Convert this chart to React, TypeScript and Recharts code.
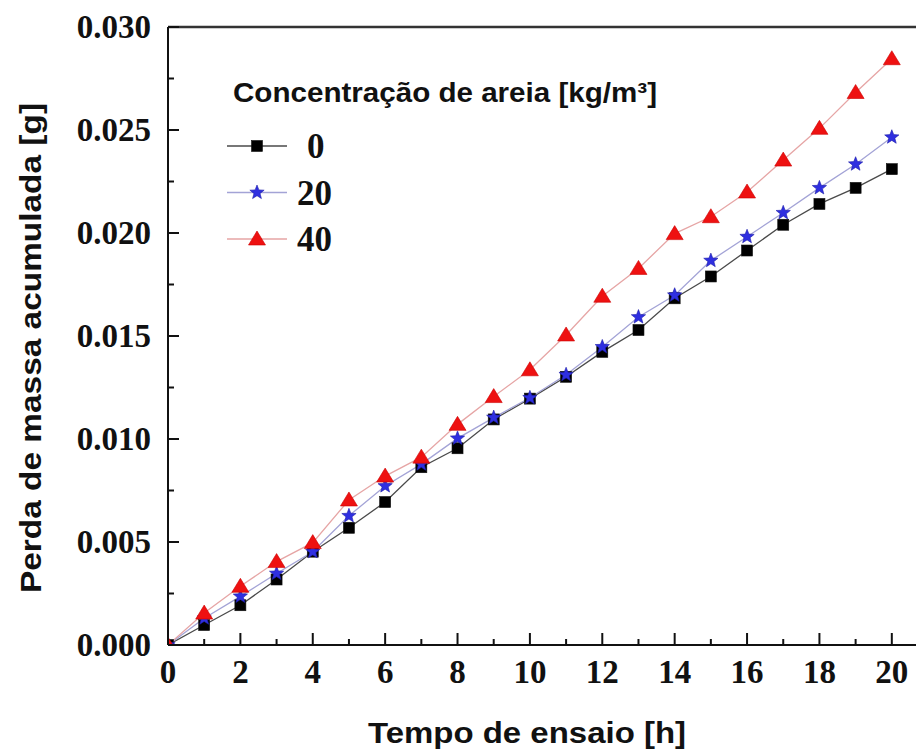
import React from 'react';
import { LineChart, Line, XAxis, YAxis, ReferenceLine, Customized } from 'recharts';

const hours = [0, 1, 2, 3, 4, 5, 6, 7, 8, 9, 10, 11, 12, 13, 14, 15, 16, 17, 18, 19, 20];
const conc0 = [0, 0.00097, 0.00193, 0.00318, 0.00453, 0.00569, 0.00694, 0.00863, 0.00955, 0.01095, 0.01196, 0.01302, 0.01423, 0.01529, 0.01683, 0.01789, 0.01915, 0.0204, 0.02141, 0.02219, 0.0231];
const conc20 = [0, 0.0013, 0.00236, 0.00347, 0.00453, 0.00627, 0.00772, 0.00878, 0.01003, 0.01104, 0.012, 0.01312, 0.01447, 0.01592, 0.01698, 0.01866, 0.01982, 0.02098, 0.02219, 0.02334, 0.02465];
const conc40 = [0, 0.00155, 0.00285, 0.00405, 0.00497, 0.00704, 0.0082, 0.00912, 0.01071, 0.01206, 0.01336, 0.01505, 0.01693, 0.01828, 0.01997, 0.02079, 0.02199, 0.02354, 0.02508, 0.02682, 0.02846];

const xTicks = [0, 1, 2, 3, 4, 5, 6, 7, 8, 9, 10, 11, 12, 13, 14, 15, 16, 17, 18, 19, 20];
const yTicks = [0, 0.0025, 0.005, 0.0075, 0.01, 0.0125, 0.015, 0.0175, 0.02, 0.0225, 0.025, 0.0275, 0.03];

const legendTitle = 'Concentração de areia [kg/m³]';
const xTitle = 'Tempo de ensaio [h]';
const yTitle = 'Perda de massa acumulada [g]';

const series = [
  { key: 'c0', name: '0', values: conc0, line: '#4a4a4a', marker: 'square', fill: '#000000' },
  { key: 'c20', name: '20', values: conc20, line: '#a3a3d6', marker: 'star', fill: '#2f2fe0' },
  { key: 'c40', name: '40', values: conc40, line: '#e6a5a5', marker: 'triangle', fill: '#ee1111' },
];

const data = hours.map((t, i) => ({ t, c0: conc0[i], c20: conc20[i], c40: conc40[i] }));

const SERIF = '"Liberation Serif", "Times New Roman", serif';
const SANS = '"Liberation Sans", Arial, sans-serif';

function Marker({ type, cx, cy, fill }: { type: string; cx: number; cy: number; fill: string }) {
  if (type === 'square') {
    return <rect x={cx - 5.5} y={cy - 5.5} width={11} height={11} fill={fill} stroke="#111" strokeWidth={0.6} />;
  }
  if (type === 'star') {
    const pts: string[] = [];
    for (let k = 0; k < 10; k++) {
      const r = k % 2 === 0 ? 7.5 : 3.2;
      const a = -Math.PI / 2 + (k * Math.PI) / 5;
      pts.push(`${cx + r * Math.cos(a)},${cy + r * Math.sin(a)}`);
    }
    return <polygon points={pts.join(' ')} fill={fill} stroke="#1c1caa" strokeWidth={0.6} />;
  }
  return (
    <polygon
      points={`${cx},${cy - 8} ${cx + 8.5},${cy + 6} ${cx - 8.5},${cy + 6}`}
      fill={fill}
      stroke="#c00"
      strokeWidth={0.6}
    />
  );
}

const makeDot = (type: string, fill: string) => (props: any) => {
  const { cx, cy, index } = props;
  if (cx == null || cy == null) return <g key={`d-${type}-${index}`} />;
  return (
    <g key={`d-${type}-${index}`}>
      <Marker type={type} cx={cx} cy={cy} fill={fill} />
    </g>
  );
};

const XTick = (props: any) => {
  const { x, y, payload } = props;
  const v = payload.value as number;
  const major = v % 2 === 0;
  return (
    <g>
      <line x1={x} x2={x} y1={y} y2={y - (major ? 12 : 6)} stroke="#111" strokeWidth={2} />
      {major && (
        <text x={x} y={y + 38} textAnchor="middle" fontFamily={SERIF} fontWeight="bold" fontSize={33} fill="#111">
          {v}
        </text>
      )}
    </g>
  );
};

const YTick = (props: any) => {
  const { x, y, payload } = props;
  const v = payload.value as number;
  const major = Math.round(v / 0.0025) % 2 === 0;
  return (
    <g>
      <line x1={x} x2={x + (major ? 11 : 6)} y1={y} y2={y} stroke="#111" strokeWidth={2} />
      {major && (
        <text x={x - 17} y={y + 11} textAnchor="end" fontFamily={SERIF} fontWeight="bold" fontSize={33} fill="#111">
          {v.toFixed(3)}
        </text>
      )}
    </g>
  );
};

const Decorations = () => (
  <g>
    <text x={527} y={743} textAnchor="middle" fontFamily={SANS} fontWeight="bold" fontSize={30} fill="#111" textLength={318} lengthAdjust="spacingAndGlyphs">
      {xTitle}
    </text>
    <text transform="translate(41,348) rotate(-90)" textAnchor="middle" fontFamily={SANS} fontWeight="bold" fontSize={30} fill="#111" textLength={490} lengthAdjust="spacingAndGlyphs">
      {yTitle}
    </text>
    <text x={233} y={102} fontFamily={SANS} fontWeight="bold" fontSize={28} fill="#111" textLength={424} lengthAdjust="spacingAndGlyphs">
      {legendTitle}
    </text>
    {series.map((s, i) => {
      const cy = 146 + i * 46.5;
      return (
        <g key={s.key}>
          <line x1={227} x2={287} y1={cy} y2={cy} stroke={s.line} strokeWidth={1.5} />
          <Marker type={s.marker} cx={257} cy={cy} fill={s.fill} />
          <text x={s.name.length === 1 ? 307 : 297} y={cy + 12} fontFamily={SERIF} fontWeight="bold" fontSize={35} fill="#111">
            {s.name}
          </text>
        </g>
      );
    })}
  </g>
);

export default function App() {
  return (
    <div style={{ position: 'absolute', left: 0, top: 0, width: 916, height: 751, overflow: 'hidden', background: '#fff' }}>
      <LineChart width={940} height={751} data={data} margin={{ top: 27, right: 12, bottom: 0, left: 0 }}>
        <XAxis
          dataKey="t"
          type="number"
          domain={[0, 21]}
          ticks={xTicks}
          interval={0}
          allowDataOverflow
          height={106}
          tickSize={0}
          tickMargin={0}
          tickLine={false}
          tick={<XTick />}
          axisLine={{ stroke: '#111', strokeWidth: 2 }}
        />
        <YAxis
          type="number"
          domain={[0, 0.03]}
          ticks={yTicks}
          interval={0}
          allowDataOverflow
          width={168}
          tickSize={0}
          tickMargin={0}
          tickLine={false}
          tick={<YTick />}
          axisLine={{ stroke: '#111', strokeWidth: 2 }}
        />
        <ReferenceLine y={0.03} stroke="#333" strokeWidth={2.5} />
        {series.map((s) => (
          <Line
            key={s.key}
            dataKey={s.key}
            name={s.name}
            stroke={s.line}
            strokeWidth={1.3}
            dot={makeDot(s.marker, s.fill)}
            activeDot={false}
            isAnimationActive={false}
          />
        ))}
        <Customized component={<Decorations />} />
      </LineChart>
    </div>
  );
}
